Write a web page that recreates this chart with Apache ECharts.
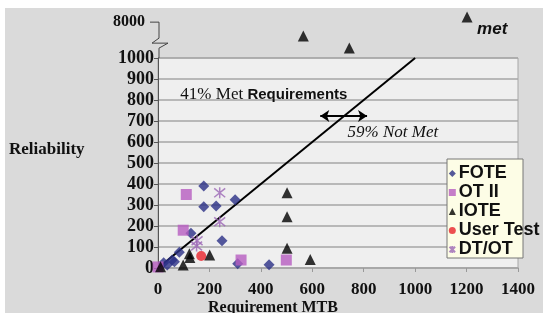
<!DOCTYPE html>
<html><head><meta charset="utf-8">
<script src="https://cdn.jsdelivr.net/npm/echarts@6/dist/echarts.min.js"></script>
<style>html,body{margin:0;padding:0;background:#fff}#c{width:543px;height:313px}</style>
</head><body><div id="c"></div>
<script>
// ---- data ----
const xTicks = [0, 200, 400, 600, 800, 1000, 1200, 1400];
const yTicks = [0, 100, 200, 300, 400, 500, 600, 700, 800, 900, 1000];
const breakLabel = 8000;
const legendNames = ['FOTE', 'OT II', 'IOTE', 'User Test', 'DT/OT'];
const fote = [[22,25],[36,14],[55,38],[64,30],[83,75],[128,165],[178,390],[178,292],[226,295],[300,325],[249,130],[310,20],[432,15]];
const ot2 = [[0,5],[98,180],[110,350],[323,38],[499,38]];
const iote = [[10,6],[98,14],[122,68],[124,50],[201,62],[502,358],[502,244],[502,94],[592,41]];
const ioteMet = [[565,5300],[744,2950],[1202,9000]];
const userTest = [[168,57]];
const dtot = [[240,358],[240,220],[152,130],[150,105]];
const reqLine = [[0,0],[1000,1000]];
const arrowSpan = [[631,724],[813,724]];

const serif = '"Liberation Serif","Times New Roman",serif';
const sans = '"Liberation Sans",Arial,sans-serif';
const asterisk = 'path://M2,2L18,18M2,18L18,2M10,0L10,20';
const C = {fote:'#2b2f86', ot2:'#b65cc0', iote:'#000', user:'#e8232a', dtot:'#9b66b5'};

const chart = echarts.init(document.getElementById('c'), null, {renderer:'canvas'});
const option = {
  backgroundColor: '#dadada',
  animation: false,
  grid: [
    {left:158, right:25, top:58, bottom:45, show:true, backgroundColor:'#efefef', borderColor:'#a6a6a6', borderWidth:1},
    {left:158, right:25, top:17, bottom:255, show:false}
  ],
  xAxis: [
    {gridIndex:0, type:'value', min:xTicks[0], max:xTicks[xTicks.length-1], interval:200,
     axisLine:{show:true, lineStyle:{color:'#a6a6a6', width:1.5}},
     axisTick:{show:true, length:4, lineStyle:{color:'#999'}},
     splitLine:{show:false},
     axisLabel:{margin:13, fontSize:17, fontWeight:'bold', fontFamily:serif, color:'#111', formatter: v => String(v)}},
    {gridIndex:1, type:'value', min:0, max:1400, show:false}
  ],
  yAxis: [
    {gridIndex:0, type:'value', min:yTicks[0], max:yTicks[yTicks.length-1], interval:100,
     axisLine:{show:true, lineStyle:{color:'#555', width:1}},
     axisTick:{show:true, length:4, lineStyle:{color:'#555'}},
     splitLine:{show:true, lineStyle:{color:'#a6a6a6', width:1.5}},
     axisLabel:{margin:4, fontSize:18, fontWeight:'bold', fontFamily:serif, color:'#111', formatter: v => String(v)}},
    {gridIndex:1, type:'value', min:1000, max:9000, interval:1000,
     axisLine:{show:false}, axisTick:{show:false}, splitLine:{show:false},
     axisLabel:{margin:13, fontSize:16, fontWeight:'bold', fontFamily:serif, color:'#111',
       formatter: v => v === breakLabel ? String(breakLabel) : ''}}
  ],
  legend: {
    data: legendNames.map(n => ({name:n})),
    orient:'vertical', left:447, top:164, padding:0, itemGap:0,
    itemWidth:7, itemHeight:7,
    textStyle:{fontSize:18, fontWeight:'bold', fontFamily:sans, color:'#111', lineHeight:19, padding:[0,0,0,-2]},
    selectedMode:false
  },
  series: [
    {name:'req', type:'line', xAxisIndex:0, yAxisIndex:0, data:reqLine, symbol:'none',
     lineStyle:{color:'#000', width:2}, z:1,
     markLine:{silent:true, symbol:['arrow','arrow'], symbolSize:[9,9], label:{show:false},
       lineStyle:{color:'#000', width:2, type:'solid'},
       data:[[{coord:arrowSpan[0]},{coord:arrowSpan[1]}]]}},
    {name:'FOTE', type:'scatter', data:fote, symbol:'diamond', symbolSize:11, itemStyle:{color:C.fote}},
    {name:'OT II', type:'scatter', data:ot2, symbol:'rect', symbolSize:11, itemStyle:{color:C.ot2}},
    {name:'IOTE', type:'scatter', data:iote, symbol:'triangle', symbolSize:11, itemStyle:{color:C.iote}},
    {name:'IOTE', type:'scatter', xAxisIndex:1, yAxisIndex:1, data:ioteMet, symbol:'triangle', symbolSize:11, clip:false, itemStyle:{color:C.iote}},
    {name:'User Test', type:'scatter', data:userTest, symbol:'circle', symbolSize:10, itemStyle:{color:C.user}},
    {name:'DT/OT', type:'scatter', data:dtot, symbol:asterisk, symbolSize:11,
     itemStyle:{color:'none', borderColor:C.dtot, borderWidth:1.5}}
  ]
};
chart.setOption(option);

const p = (g, pt) => chart.convertToPixel({gridIndex:g}, pt);
const o = p(0, [0, 0]);
const top1000 = p(0, [0, 1000]);
const b8 = p(1, [0, breakLabel]);
const x0 = o[0];
const t1 = p(0, [87, 824]);
const t2 = p(0, [737, 647]);
const t3 = p(1, [1241, 6650]);

chart.setOption({
  graphic: [
    {type:'rect', shape:{x:0, y:0, width:543, height:8}, style:{fill:'#fff'}, silent:true},
    {type:'rect', shape:{x:0, y:0, width:5, height:313}, style:{fill:'#fff'}, silent:true},
    {type:'polyline', silent:true, z:5, shape:{points:[
      [x0-8, b8[1]], [x0+1, b8[1]], [x0+1, b8[1]+16], [x0-6, b8[1]+21],
      [x0+10, b8[1]+21], [x0+1, b8[1]+26], [x0+1, top1000[1]]]},
      style:{stroke:'#444', lineWidth:1, fill:null}},
    {type:'rect', z:3, silent:true, shape:{x:447, y:159, width:76, height:99},
     style:{fill:'#fdfde6', stroke:'#777', lineWidth:1}},
    {type:'text', z:5, silent:true, x:t1[0], y:t1[1],
     style:{text:'{a|41% Met }{b|Requirements}', verticalAlign:'middle',
       rich:{a:{fontSize:17, fontFamily:serif, fill:'#111'}, b:{fontSize:15, fontWeight:'bold', fontFamily:sans, fill:'#111'}}}},
    {type:'text', z:5, silent:true, x:t2[0], y:t2[1],
     style:{text:'59% Not Met', verticalAlign:'middle', font:'italic 17px '+serif, fill:'#111'}},
    {type:'text', z:5, silent:true, x:t3[0], y:t3[1],
     style:{text:'met', verticalAlign:'middle', font:'italic bold 17px '+sans, fill:'#111'}},
    {type:'text', z:5, silent:true, x:9, y:150,
     style:{text:'Reliability', verticalAlign:'middle', font:'bold 17px '+serif, fill:'#111'}},
    {type:'text', z:5, silent:true, x:208, y:300,
     style:{text:'Requirement MTB', verticalAlign:'top', font:'bold 16px '+serif, fill:'#111'}}
  ]
});
</script></body></html>
